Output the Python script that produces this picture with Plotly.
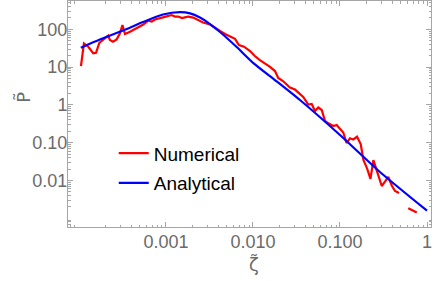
import plotly.graph_objects as go

# Numerical (red) series; None marks the gap in the line
num_zeta = [1.054e-4, 1.14e-4, 1.28e-4, 1.46e-4, 1.57e-4, 1.71e-4, 1.90e-4, 2.17e-4, 2.27e-4, 2.46e-4,
            2.71e-4, 2.96e-4, 3.16e-4, 3.38e-4, 3.86e-4, 4.61e-4, 5.48e-4, 6.26e-4, 6.85e-4, 7.48e-4,
            8.93e-4, 1.02e-3, 1.16e-3, 1.27e-3, 1.38e-3, 1.53e-3, 1.65e-3, 1.80e-3, 2.06e-3, 2.33e-3,
            2.66e-3, 3.21e-3, 3.66e-3, 4.18e-3, 4.77e-3, 5.44e-3, 6.21e-3, 6.90e-3, 7.88e-3, 9.25e-3,
            1.05e-2, 1.20e-2, 1.37e-2, 1.57e-2, 1.79e-2, 1.95e-2, 2.21e-2, 2.66e-2, 3.04e-2, 3.47e-2,
            3.78e-2, 4.32e-2, 4.73e-2, 5.16e-2, 5.63e-2, 6.17e-2, 6.73e-2, 7.35e-2, 8.38e-2, 9.16e-2,
            0.100, 0.109, 0.119, 0.130, 0.142, 0.157, 0.173, 0.186, 0.204, 0.224,
            0.242, 0.259, 0.277, 0.302, 0.329, 0.359, 0.396, 0.429, 0.477, None,
            0.609, 0.762]
num_p = [10.7, 42.1, 34.7, 23.2, 24.0, 43.4, 53.7, 68.5, 52.1, 47.0,
         54.3, 78.3, 130, 75.1, 86.3, 106, 134, 169, 161, 182,
         208, 221, 239, 218, 218, 199, 208, 218, 205, 176,
         151, 134, 108, 90.2, 75.1, 63.7, 56.1, 38.5, 34.7, 26.7,
         19.7, 15.4, 12.8, 10.2, 7.88, 5.15, 4.29, 2.88, 2.55, 1.88,
         1.62, 1.02, 1.06, 0.689, 0.853, 0.733, 0.375, 0.326, 0.277, 0.294,
         0.230, 0.186, 0.0982, 0.131, 0.122, 0.144, 0.0923, 0.0348, 0.0214, 0.0110,
         0.0348, 0.0214, 0.0124, 0.00715, 0.00929, 0.0124, 0.00715, 0.00527, 0.00467, None,
         0.00184, 0.00142]

# Analytical (blue) series
ana_zeta = [1.05e-4, 1.74e-4, 3.2e-4, 5.45e-4, 9.25e-4, 1.45e-3, 1.89e-3, 2.46e-3, 3.21e-3,
            4.18e-3, 6.5e-3, 1.01e-2, 1.79e-2, 3.47e-2, 0.1, 0.288, 1.0]
ana_p = [32.6, 53.7, 93, 156, 247, 285, 265, 205, 138,
         85, 34, 12.8, 4.56, 1.35, 0.16, 0.0168, 0.00159]

x_tickvals = [0.001, 0.01, 0.1, 1]
x_ticktext = ["0.001", "0.010", "0.100", "1"]
y_tickvals = [0.01, 0.1, 1, 10, 100]
y_ticktext = ["0.01", "0.10", "1", "10", "100"]
x_title = "ζ̃"
y_title = "P̃"

grey = "#a6a6a6"
labgrey = "#6b6b6b"
font = "Liberation Sans, Arial, sans-serif"
tfont = "DejaVu Sans, sans-serif"

x_minor = [m * 10.0 ** e for e in range(-5, 1) for m in range(2, 10)]
y_minor = [m * 10.0 ** e for e in range(-4, 3) for m in range(2, 10)]

fig = go.Figure()
fig.add_trace(go.Scatter(x=num_zeta, y=num_p, mode="lines", name="Numerical", legendgroup="a",
                         line=dict(color="#ff0000", width=2.2), connectgaps=False))
fig.add_trace(go.Scatter(x=ana_zeta, y=ana_p, mode="lines", name="Analytical", legendgroup="b",
                         line=dict(color="#0000ff", width=2.2, shape="spline", smoothing=0.6)))

axis_common = dict(showgrid=False, zeroline=False, showline=True, linecolor=grey, linewidth=1,
                   mirror="ticks", ticks="inside", ticklen=5, tickcolor=grey, automargin=False,
                   tickfont=dict(family=font, size=18, color=labgrey))

fig.update_xaxes(type="log", range=[-4.126, 0.046], tickvals=x_tickvals, ticktext=x_ticktext,
                 minor=dict(tickvals=x_minor, ticks="inside", ticklen=2.5, tickcolor=grey),
                 ticklabelstandoff=-2, **axis_common)
fig.update_yaxes(type="log", range=[-3.23, 2.75], tickvals=y_tickvals, ticktext=y_ticktext,
                 minor=dict(tickvals=y_minor, ticks="inside", ticklen=2.5, tickcolor=grey),
                 ticklabelstandoff=-4, **axis_common)

fig.add_annotation(text=x_title, xref="paper", yref="paper", x=0.512, y=-0.168,
                   xanchor="center", yanchor="middle", showarrow=False,
                   font=dict(family=tfont, size=18, color=labgrey))
fig.add_annotation(text=y_title, xref="paper", yref="paper", x=-0.125, y=0.575,
                   xanchor="center", yanchor="middle", showarrow=False, textangle=-90,
                   font=dict(family=tfont, size=18, color=labgrey))

fig.update_layout(
    width=436, height=281,
    margin=dict(l=68, r=5, t=1, b=54, autoexpand=False),
    paper_bgcolor="white", plot_bgcolor="white",
    showlegend=True,
    legend=dict(x=0.126, y=0.41, xanchor="left", yanchor="top",
                bgcolor="rgba(0,0,0,0)", borderwidth=0,
                font=dict(family=font, size=19, color="black"),
                itemwidth=30, tracegroupgap=2),
)

fig.write_html("out.html", config={"displayModeBar": False},
               post_script="document.body.style.margin='0';")
